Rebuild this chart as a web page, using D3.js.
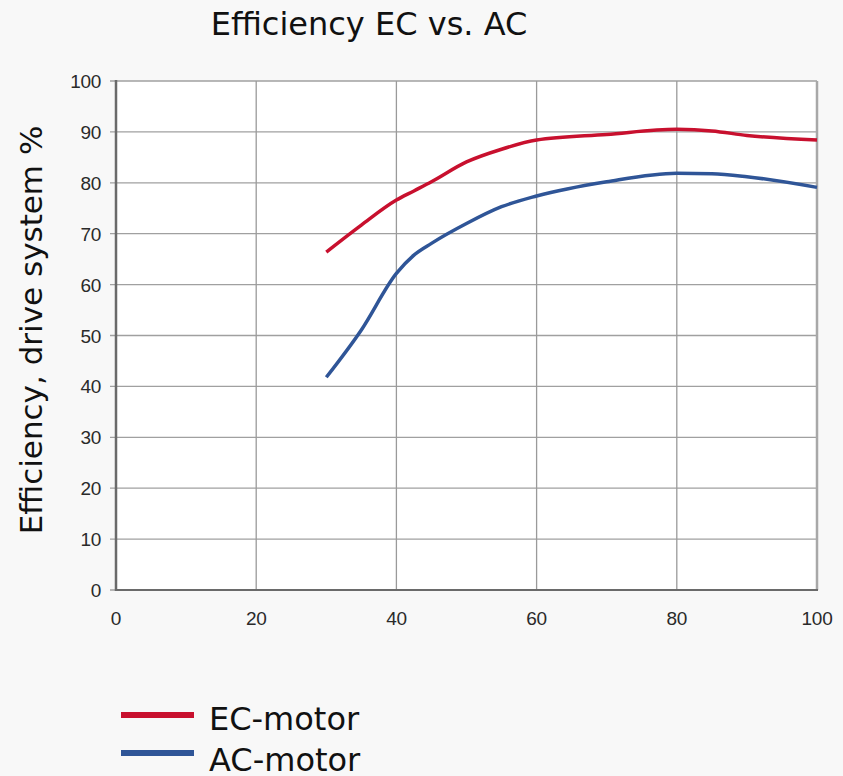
<!DOCTYPE html>
<html>
<head>
<meta charset="utf-8">
<script src="https://cdn.jsdelivr.net/npm/d3@7"></script>
<style>
  body { margin: 0; background: #f8f8f8; }
  svg { display: block; }
</style>
</head>
<body>
<script>
const loads = [30, 35, 40, 42.5, 45, 50, 55, 60, 70, 80, 85, 90, 100];
const ecMotor = [66.4, 71.7, 76.6, 78.4, 80.2, 84.1, 86.6, 88.4, 89.5, 90.5, 90.2, 89.3, 88.4];
const acMotor = [41.8, 51.1, 62.2, 65.8, 68.1, 72.0, 75.3, 77.4, 80.2, 81.9, 81.8, 81.2, 79.1];
const xTicks = [0, 20, 40, 60, 80, 100];
const yTicks = [0, 10, 20, 30, 40, 50, 60, 70, 80, 90, 100];
const seriesNames = ['EC-motor', 'AC-motor'];
const seriesColors = ['#c8102e', '#2f5597'];

const width = 843;
const height = 776;
const margin = { top: 81, right: 26, bottom: 186, left: 116 };

const svg = d3.select('body').append('svg')
  .attr('width', width)
  .attr('height', height);

const x = d3.scaleLinear().domain([0, 100]).range([margin.left, width - margin.right]);
const y = d3.scaleLinear().domain([0, 100]).range([height - margin.bottom, margin.top]);

// plot background
svg.append('rect')
  .attr('x', x(0)).attr('y', y(100))
  .attr('width', x(100) - x(0)).attr('height', y(0) - y(100))
  .attr('fill', '#fff');

// grid
svg.append('g').selectAll('line')
  .data(yTicks)
  .enter().append('line')
  .attr('x1', x(0) - 6).attr('x2', x(100))
  .attr('y1', (d) => y(d)).attr('y2', (d) => y(d))
  .style('stroke', '#a0a0a0')
  .style('stroke-width', 1.3);

svg.append('g').selectAll('line')
  .data(xTicks.slice(1))
  .enter().append('line')
  .attr('x1', (d) => x(d)).attr('x2', (d) => x(d))
  .attr('y1', y(100)).attr('y2', y(0))
  .style('stroke', (d) => (d === 100 ? '#a8a8a8' : '#9a9a9a'))
  .style('stroke-width', (d) => (d === 100 ? 2.5 : 1.3));

// axes lines
svg.append('line')
  .attr('x1', x(0)).attr('x2', x(0))
  .attr('y1', y(100) - 1).attr('y2', y(0) + 1)
  .style('stroke', '#6a6a6a').style('stroke-width', 2.5);
svg.append('line')
  .attr('x1', x(0)).attr('x2', x(100) + 1)
  .attr('y1', y(0)).attr('y2', y(0))
  .style('stroke', '#6a6a6a').style('stroke-width', 2);

// tick labels
const tickFont = (sel) => sel
  .style('font-family', '"Liberation Sans", Arial, sans-serif')
  .style('font-size', '19px')
  .style('letter-spacing', '-0.3px')
  .style('fill', '#2a2a2a');

svg.append('g').selectAll('text')
  .data(yTicks)
  .enter().append('text')
  .attr('x', x(0) - 15)
  .attr('y', (d) => y(d) + 7)
  .attr('text-anchor', 'end')
  .call(tickFont)
  .text((d) => d);

svg.append('g').selectAll('text')
  .data(xTicks)
  .enter().append('text')
  .attr('x', (d) => x(d))
  .attr('y', y(0) + 35)
  .attr('text-anchor', 'middle')
  .call(tickFont)
  .text((d) => d);

// lines
const line = d3.line()
  .x((d) => x(d[0]))
  .y((d) => y(d[1]))
  .curve(d3.curveMonotoneX);

[ecMotor, acMotor].forEach((vals, i) => {
  svg.append('path')
    .datum(loads.map((l, j) => [l, vals[j]]))
    .attr('d', line)
    .attr('fill', 'none')
    .style('stroke', seriesColors[i])
    .style('stroke-width', 3.5);
});

const bigFont = (sel) => sel
  .style('font-family', '"DejaVu Sans", Verdana, sans-serif')
  .style('font-size', '32px')
  .style('fill', '#111');

// title
svg.append('text')
  .attr('x', 369)
  .attr('y', 35)
  .attr('text-anchor', 'middle')
  .call(bigFont)
  .text('Efficiency EC vs. AC');

// y label
svg.append('text')
  .attr('transform', 'translate(42,330) rotate(-90)')
  .attr('text-anchor', 'middle')
  .call(bigFont)
  .style('font-size', '31px')
  .text('Efficiency, drive system %');

// legend
const legend = svg.append('g');
seriesNames.forEach((name, i) => {
  const ly = 715 + i * 38;
  legend.append('line')
    .attr('x1', 121).attr('x2', 194)
    .attr('y1', ly).attr('y2', ly)
    .style('stroke', seriesColors[i])
    .style('stroke-width', 6);
  legend.append('text')
    .attr('x', 209)
    .attr('y', 730 + i * 41)
    .call(bigFont)
    .text(name);
});
</script>
</body>
</html>
